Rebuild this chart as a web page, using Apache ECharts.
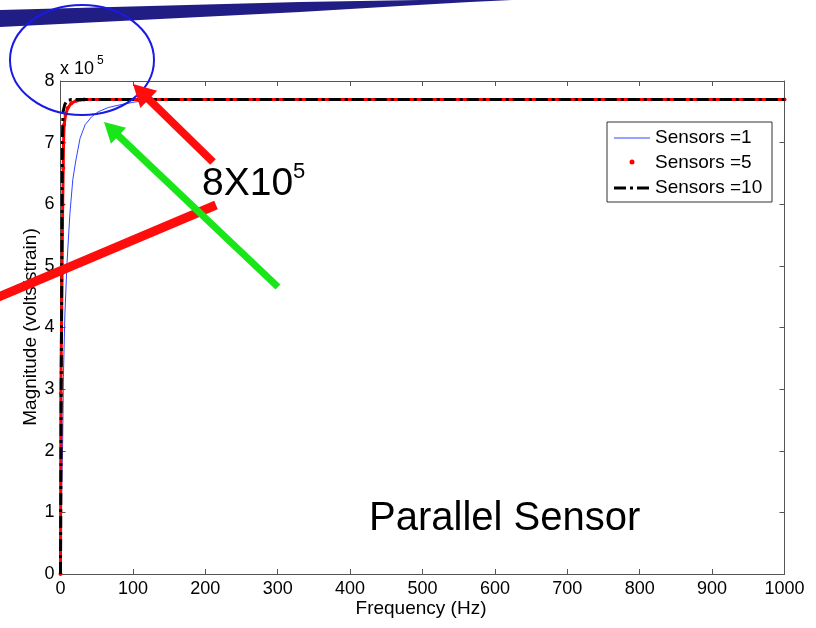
<!DOCTYPE html>
<html>
<head>
<meta charset="utf-8">
<script src="https://cdn.jsdelivr.net/npm/echarts@6/dist/echarts.min.js"></script>
<style>
  html, body { margin: 0; padding: 0; background: #ffffff; }
  #chart { width: 816px; height: 628px; }
</style>
</head>
<body>
<div id="chart"></div>
<script>
// Frequency response of the parallel sensor array
// magnitudes are in units of 10^5 volts/strain

const freqTicks = [0, 100, 200, 300, 400, 500, 600, 700, 800, 900, 1000];
const magTicks = [0, 1, 2, 3, 4, 5, 6, 7, 8];
const seriesNames = ['Sensors =1', 'Sensors =5', 'Sensors =10'];

// [frequency Hz, magnitude x1e5]
const sensors1 = [
  [0, 0], [1, 0.9], [2, 1.6], [3, 2.15], [4, 3.2], [6, 4.2], [9, 5.05],
  [13, 5.85], [17, 6.4], [21, 6.7], [27, 7.07], [34, 7.29], [43, 7.42],
  [52, 7.5], [66, 7.57], [85, 7.62], [103, 7.66], [125, 7.69], [160, 7.7],
  [1000, 7.7]
];
const sensors5 = [
  [0, 0], [0.5, 2.93], [3, 5.99], [3.8, 6.59], [4.2, 7.0], [5, 7.29],
  [7, 7.45], [10, 7.56], [15, 7.64], [22, 7.68], [33, 7.7], [1000, 7.7]
];
const sensors10 = [
  [0, 0], [1, 3.0], [2, 5.5], [2.5, 7.0], [3.5, 7.5], [6, 7.62],
  [9, 7.68], [15, 7.7], [1000, 7.7]
];

const axisColor = '#555555';
const labelFont = 'Liberation Sans, Arial, sans-serif';

// straight arrow: shaft plus triangular head ending at the tip
function arrow(x1, y1, x2, y2, color, width, headLen, headHalf) {
  const dx = x2 - x1, dy = y2 - y1;
  const len = Math.sqrt(dx * dx + dy * dy);
  const ux = dx / len, uy = dy / len;
  const bx = x2 - ux * headLen, by = y2 - uy * headLen;
  const px = -uy, py = ux;
  return [
    { type: 'line', z: 100, shape: { x1: x1, y1: y1, x2: bx + ux * 2, y2: by + uy * 2 },
      style: { stroke: color, lineWidth: width } },
    { type: 'polygon', z: 100, shape: { points: [
        [x2, y2], [bx + px * headHalf, by + py * headHalf], [bx - px * headHalf, by - py * headHalf]
      ] }, style: { fill: color } }
  ];
}

const chart = echarts.init(document.getElementById('chart'), null, { renderer: 'canvas' });

const graphics = [
  // brush stroke across the top
  { type: 'polygon', z: 90, shape: { points: [
      [0, 10], [150, 6], [300, 2], [420, 0], [512, 0], [470, 2], [400, 6],
      [300, 12], [200, 17], [100, 22], [0, 27]
    ] }, style: { fill: '#201d84' } },
  // circle around the exponent
  { type: 'ellipse', z: 95, shape: { cx: 82, cy: 60, rx: 72, ry: 55 },
    style: { fill: 'none', stroke: '#1a1ae6', lineWidth: 2 } },
  // exponent label of the magnitude axis
  { type: 'text', z: 50, x: 60, y: 69,
    style: { text: 'x 10', font: '18px ' + labelFont, fill: '#000', textAlign: 'left', textVerticalAlign: 'middle' } },
  { type: 'text', z: 50, x: 97, y: 61,
    style: { text: '5', font: '12px ' + labelFont, fill: '#000', textAlign: 'left', textVerticalAlign: 'middle' } },
  // axis titles
  { type: 'text', z: 50, x: 421, y: 609,
    style: { text: 'Frequency (Hz)', font: '19px ' + labelFont, fill: '#000', textAlign: 'center', textVerticalAlign: 'middle' } },
  { type: 'text', z: 50, x: 31, y: 327, rotation: Math.PI / 2,
    style: { text: 'Magnitude (volts/strain)', font: '19px ' + labelFont, fill: '#000', textAlign: 'center', textVerticalAlign: 'middle' } },
  // legend
  { type: 'rect', z: 60, shape: { x: 607, y: 122, width: 165, height: 80 },
    style: { fill: '#fff', stroke: '#333', lineWidth: 1 } },
  { type: 'line', z: 61, shape: { x1: 614, y1: 138, x2: 650, y2: 138 },
    style: { stroke: '#3344ff', lineWidth: 1 } },
  { type: 'circle', z: 61, shape: { cx: 632, cy: 162, r: 2.5 },
    style: { fill: '#ff0000' } },
  { type: 'line', z: 61, shape: { x1: 614, y1: 188, x2: 650, y2: 188 },
    style: { stroke: '#000', lineWidth: 3, lineDash: [12, 4, 3, 4] } },
  { type: 'text', z: 61, x: 655, y: 138,
    style: { text: seriesNames[0], font: '19px ' + labelFont, fill: '#000', textVerticalAlign: 'middle' } },
  { type: 'text', z: 61, x: 655, y: 163,
    style: { text: seriesNames[1], font: '19px ' + labelFont, fill: '#000', textVerticalAlign: 'middle' } },
  { type: 'text', z: 61, x: 655, y: 188,
    style: { text: seriesNames[2], font: '19px ' + labelFont, fill: '#000', textVerticalAlign: 'middle' } },
  // red pointer line
  { type: 'line', z: 98, shape: { x1: -4, y1: 298, x2: 216, y2: 205 },
    style: { stroke: '#ff0d0d', lineWidth: 9 } },
  ...arrow(213, 162, 133, 84, '#ff0d0d', 8, 22, 12),
  ...arrow(278, 287, 104, 122, '#19e619', 7, 20, 11),
  // annotations
  { type: 'text', z: 110, x: 202, y: 184,
    style: { text: '8X10', font: '39px ' + labelFont, fill: '#000', textAlign: 'left', textVerticalAlign: 'middle' } },
  { type: 'text', z: 110, x: 293, y: 172,
    style: { text: '5', font: '22px ' + labelFont, fill: '#000', textAlign: 'left', textVerticalAlign: 'middle' } },
  { type: 'text', z: 110, x: 369, y: 519,
    style: { text: 'Parallel Sensor', font: '40px ' + labelFont, fill: '#000', textAlign: 'left', textVerticalAlign: 'middle' } }
];

const tickStyle = { show: true, inside: true, length: 5, lineStyle: { color: axisColor } };
const plainLabel = function (v) { return String(v); };

chart.setOption({
  animation: false,
  backgroundColor: '#ffffff',
  grid: { left: 60.5, right: 31.5, top: 81, bottom: 54, outerBoundsMode: 'none' },
  xAxis: [
    { type: 'value', min: freqTicks[0], max: freqTicks[freqTicks.length - 1], interval: 100,
      axisLine: { show: true, onZero: false, lineStyle: { color: axisColor, width: 1 } },
      axisTick: tickStyle, splitLine: { show: false },
      axisLabel: { margin: 6, color: '#000', fontSize: 18, fontFamily: labelFont, formatter: plainLabel } },
    { type: 'value', position: 'top', min: freqTicks[0], max: freqTicks[freqTicks.length - 1], interval: 100,
      axisLine: { show: true, onZero: false, lineStyle: { color: axisColor, width: 1 } },
      axisTick: tickStyle, splitLine: { show: false }, axisLabel: { show: false } }
  ],
  yAxis: [
    { type: 'value', min: magTicks[0], max: magTicks[magTicks.length - 1], interval: 1,
      axisLine: { show: true, onZero: false, lineStyle: { color: axisColor, width: 1 } },
      axisTick: tickStyle, splitLine: { show: false },
      axisLabel: { margin: 6, color: '#000', fontSize: 18, fontFamily: labelFont, formatter: plainLabel } },
    { type: 'value', position: 'right', min: magTicks[0], max: magTicks[magTicks.length - 1], interval: 1,
      axisLine: { show: true, onZero: false, lineStyle: { color: axisColor, width: 1 } },
      axisTick: tickStyle, splitLine: { show: false }, axisLabel: { show: false } }
  ],
  series: [
    { name: seriesNames[0], type: 'line', data: sensors1, showSymbol: false, symbol: 'none',
      lineStyle: { color: '#3344ff', width: 1 }, z: 3, clip: true },
    { name: seriesNames[1], type: 'line', data: sensors5, symbol: 'circle', symbolSize: 4,
      showSymbol: true, itemStyle: { color: '#ff0000' },
      lineStyle: { color: '#ff0000', width: 3 }, z: 4, clip: true },
    { name: seriesNames[2], type: 'line', data: sensors10, symbol: 'none', showSymbol: false,
      lineStyle: { color: '#000000', width: 3, type: [12, 4, 3, 4] }, z: 5, clip: true }
  ],
  graphic: graphics
});
</script>
</body>
</html>
